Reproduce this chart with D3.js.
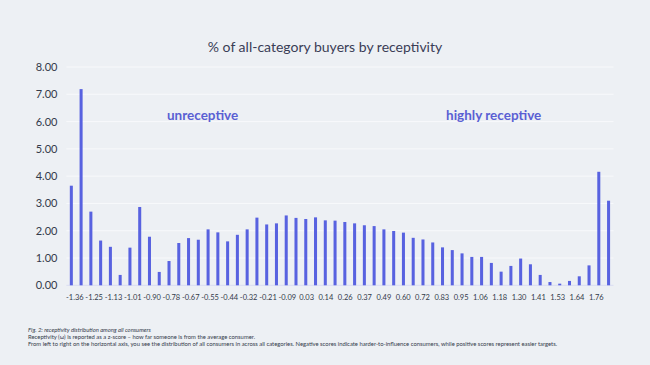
<!DOCTYPE html>
<html>
<head>
<meta charset="utf-8">
<script src="https://cdn.jsdelivr.net/npm/d3@7"></script>
<style>
  html, body { margin: 0; padding: 0; background: #edf0f4; }
  svg { display: block; }
</style>
</head>
<body>
<svg id="chart" width="650" height="365"></svg>
<script>
// ---- data ----
const tickLabels = ["-1.36","-1.25","-1.13","-1.01","-0.90","-0.78","-0.67","-0.55","-0.44","-0.32",
  "-0.21","-0.09","0.03","0.14","0.26","0.37","0.49","0.60","0.72","0.83",
  "0.95","1.06","1.18","1.30","1.41","1.53","1.64","1.76"];
const shares = [3.65,7.19,2.70,1.64,1.41,0.38,1.38,2.87,1.78,0.49,
  0.89,1.55,1.73,1.67,2.05,1.94,1.61,1.85,2.05,2.48,
  2.23,2.27,2.56,2.47,2.43,2.49,2.38,2.37,2.32,2.27,
  2.20,2.17,2.05,1.99,1.93,1.74,1.68,1.57,1.39,1.29,
  1.17,1.04,1.04,0.82,0.50,0.71,0.98,0.77,0.38,0.12,
  0.06,0.16,0.33,0.73,4.16,3.10];
const yTicks = [0,1,2,3,4,5,6,7,8];
const titleText = "% of all-category buyers by receptivity";
const annotations = [{text: "unreceptive", at: 0.249}, {text: "highly receptive", at: 0.781}];
const notes = [
  "Fig. 2: receptivity distribution among all consumers",
  "Receptivity (ω) is reported as a z-score – how far someone is from the average consumer.",
  "From left to right on the horizontal axis, you see the distribution of all consumers in across all categories. Negative scores indicate harder-to-influence consumers, while positive scores represent easier targets."
];

// ---- layout ----
const svg = d3.select("#chart");
const W = 650, H = 365;
const m = {left: 66.4, right: 650 - 613.5, top: 67, bottom: 365 - 285.3};
const barColor = "#5862e0";
const font = "Lato, 'Open Sans', sans-serif";

svg.append("rect").attr("width", W).attr("height", H).attr("fill", "#edf0f4");

const x = d3.scaleBand()
  .domain(d3.range(shares.length))
  .range([m.left, W - m.right])
  .paddingInner(0.69)
  .paddingOuter(0.35);

const y = d3.scaleLinear().domain([0, 8]).range([H - m.bottom, m.top]);

// gridlines
svg.append("g")
  .selectAll("line").data(yTicks.slice(1)).join("line")
  .attr("x1", m.left).attr("x2", W - m.right)
  .attr("y1", d => y(d)).attr("y2", d => y(d))
  .attr("stroke", "#f8f9fb").attr("stroke-width", 1);

// y axis
const yAxis = svg.append("g")
  .attr("transform", `translate(${m.left},0)`)
  .call(d3.axisLeft(y).tickValues(yTicks).tickFormat(d3.format(".2f")).tickSize(0).tickPadding(9));
yAxis.select(".domain").remove();
yAxis.selectAll("text").attr("font-family", font).attr("font-size", 11).attr("fill", "#333a4a");

// baseline
svg.append("line")
  .attr("x1", m.left).attr("x2", W - m.right)
  .attr("y1", y(0)).attr("y2", y(0))
  .attr("stroke", "#d9dcf2").attr("stroke-width", 1);

// bars
svg.append("g")
  .selectAll("rect").data(shares).join("rect")
  .attr("x", (d, i) => x(i))
  .attr("width", x.bandwidth())
  .attr("y", d => y(d))
  .attr("height", d => y(0) - y(d))
  .attr("fill", barColor);

// x axis labels (every other category)
const xl = d3.scalePoint()
  .domain(tickLabels)
  .range([x(0) + x.bandwidth() / 2 + 3, x(shares.length - 2) + x.bandwidth() / 2 - 3]);
const xAxis = svg.append("g")
  .attr("transform", `translate(0,${y(0)})`)
  .call(d3.axisBottom(xl).tickSize(0).tickPadding(9));
xAxis.select(".domain").remove();
xAxis.selectAll("text").attr("font-family", font).attr("font-size", 7.5).attr("fill", "#333a4a");

// title
svg.append("text")
  .attr("x", W / 2).attr("y", 52)
  .attr("text-anchor", "middle")
  .attr("font-family", font).attr("font-size", 14)
  .attr("fill", "#3a3d56")
  .text(titleText);

// annotations
svg.append("g")
  .selectAll("text").data(annotations).join("text")
  .attr("x", d => m.left + d.at * (W - m.left - m.right))
  .attr("y", 119.5)
  .attr("text-anchor", "middle")
  .attr("font-family", font).attr("font-weight", 700).attr("font-size", 13.5)
  .attr("fill", "#5a5fd3")
  .text(d => d.text);

// notes
svg.append("g")
  .selectAll("text").data(notes).join("text")
  .attr("x", 28)
  .attr("y", (d, i) => 331.5 + i * 7)
  .attr("font-family", font).attr("font-size", 5.85)
  .attr("font-style", (d, i) => i === 0 ? "italic" : "normal")
  .attr("fill", "#333a4a")
  .text(d => d);
</script>
</body>
</html>
